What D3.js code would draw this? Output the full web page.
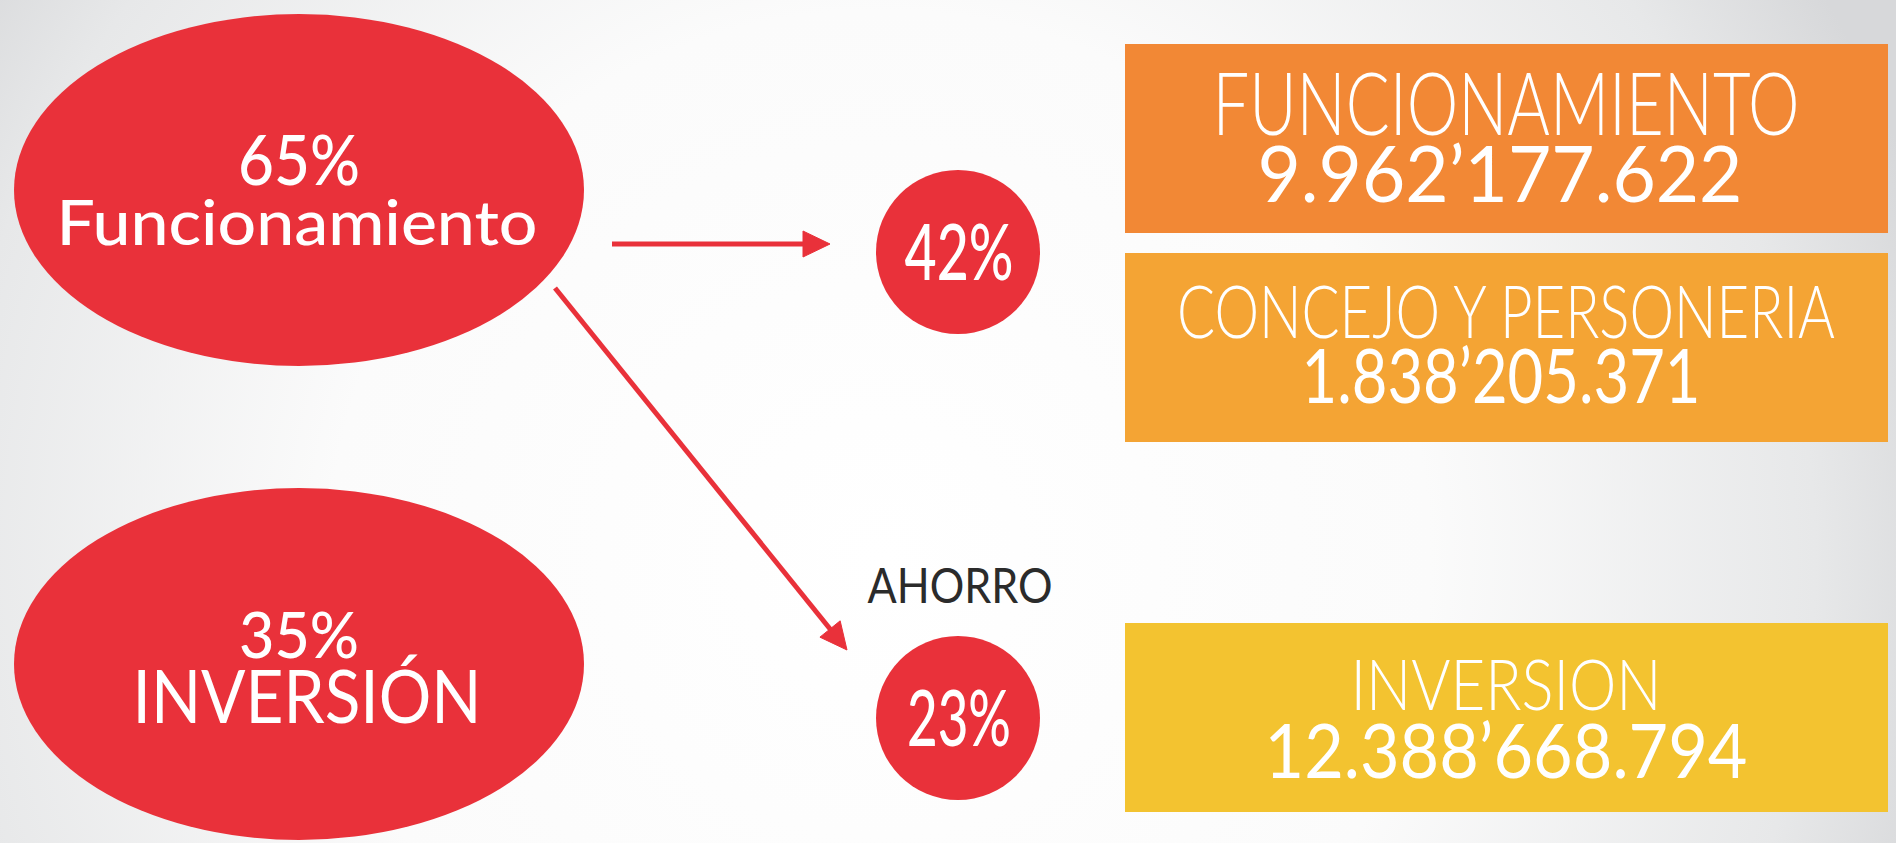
<!DOCTYPE html>
<html lang="es">
<head>
    <meta charset="UTF-8">
    <title>Presupuesto</title>
    <script src="https://cdn.jsdelivr.net/npm/d3@7"></script>
    <style>
        body {
            margin: 0;
            padding: 0;
            overflow: hidden;
            background: #ffffff;
        }
        svg text {
            font-family: 'Lato', 'Open Sans', sans-serif;
        }
    </style>
</head>
<body>
    <svg id="chart"></svg>

    <script>
        // data
        const groupShares = [65, 35];
        const groupLabels = ['Funcionamiento', 'INVERSIÓN'];
        const splitShares = [42, 23];
        const splitCaptions = ['', 'AHORRO'];
        const itemLabels = ['FUNCIONAMIENTO', 'CONCEJO Y PERSONERIA', 'INVERSION'];
        const itemValues = [9962177622, 1838205371, 12388668794];
        const itemColors = ['#f28835', '#f4a434', '#f3c330'];

        const width = 1896;
        const height = 843;
        const red = '#e9313a';

        const svg = d3.select('#chart')
            .attr('width', width)
            .attr('height', height);

        // background: light radial gradient, grey at the sides
        const defs = svg.append('defs');
        const grad = defs.append('radialGradient')
            .attr('id', 'bg')
            .attr('gradientUnits', 'userSpaceOnUse')
            .attr('cx', 880).attr('cy', 560).attr('r', 1100);
        grad.append('stop').attr('offset', 0).attr('stop-color', '#ffffff');
        grad.append('stop').attr('offset', 0.5).attr('stop-color', '#fbfbfb');
        grad.append('stop').attr('offset', 0.85).attr('stop-color', '#e7e8e9');
        grad.append('stop').attr('offset', 1).attr('stop-color', '#d7d8da');
        svg.append('rect')
            .attr('width', width).attr('height', height)
            .attr('fill', 'url(#bg)');

        // number formatting like 9.962’177.622
        const money = v => {
            const g = d3.format(',')(v).split(',');
            return g.map((s, i) => i === 0 ? s : (i === g.length - 2 ? '’' : '.') + s).join('');
        };

        // squeeze/stretch text to a measured width
        function fit(sel, w) {
            sel.attr('textLength', w).attr('lengthAdjust', 'spacingAndGlyphs');
        }

        // left ellipses
        const yGroup = d3.scalePoint().domain(d3.range(groupShares.length)).range([190, 664]);
        const groups = svg.selectAll('.group')
            .data(groupShares)
            .join('g')
            .attr('class', 'group')
            .attr('transform', (d, i) => `translate(299,${yGroup(i)})`);

        groups.append('ellipse')
            .attr('rx', 285)
            .attr('ry', 176)
            .attr('fill', red);

        const pctSpec = [{ y: -5, fs: 70, w: 122 }, { y: -6, fs: 63, w: 120 }];
        const lblSpec = [{ y: 55, fs: 61, w: 481, dx: -2 }, { y: 59, fs: 73, w: 349, dx: 8 }];

        groups.append('text')
            .attr('text-anchor', 'middle')
            .attr('y', (d, i) => pctSpec[i].y)
            .attr('font-size', (d, i) => pctSpec[i].fs)
            .attr('font-weight', 500)
            .attr('fill', '#ffffff')
            .text(d => d + '%')
            .each(function (d, i) { fit(d3.select(this), pctSpec[i].w); });

        groups.append('text')
            .attr('text-anchor', 'middle')
            .attr('x', (d, i) => lblSpec[i].dx)
            .attr('y', (d, i) => lblSpec[i].y)
            .attr('font-size', (d, i) => lblSpec[i].fs)
            .attr('font-weight', (d, i) => i === 0 ? 500 : 400)
            .attr('fill', '#ffffff')
            .text((d, i) => groupLabels[i])
            .each(function (d, i) { fit(d3.select(this), lblSpec[i].w); });

        // arrows: shaft plus a filled head
        const arrows = [
            { x1: 612, y1: 244, x2: 830, y2: 244 },
            { x1: 555, y1: 288, x2: 847, y2: 650 }
        ];
        const headLen = 27, headHalf = 13;
        arrows.forEach(a => {
            const ang = Math.atan2(a.y2 - a.y1, a.x2 - a.x1);
            const bx = a.x2 - headLen * Math.cos(ang);
            const by = a.y2 - headLen * Math.sin(ang);
            a.bx = bx + 2 * Math.cos(ang);
            a.by = by + 2 * Math.sin(ang);
            a.head = [
                [a.x2, a.y2],
                [bx + headHalf * Math.sin(ang), by - headHalf * Math.cos(ang)],
                [bx - headHalf * Math.sin(ang), by + headHalf * Math.cos(ang)]
            ];
        });

        svg.selectAll('.shaft')
            .data(arrows)
            .join('line')
            .attr('class', 'shaft')
            .attr('x1', d => d.x1).attr('y1', d => d.y1)
            .attr('x2', d => d.bx).attr('y2', d => d.by)
            .attr('stroke', red)
            .attr('stroke-width', 5);

        svg.selectAll('.head')
            .data(arrows)
            .join('path')
            .attr('class', 'head')
            .attr('d', d => d3.line()(d.head) + 'Z')
            .attr('fill', red)
            .attr('stroke', red)
            .attr('stroke-width', 1);

        // middle circles
        const yMid = d3.scalePoint().domain(d3.range(splitShares.length)).range([252, 718]);
        const mids = svg.selectAll('.mid')
            .data(splitShares)
            .join('g')
            .attr('class', 'mid')
            .attr('transform', (d, i) => `translate(958,${yMid(i)})`);

        mids.append('circle')
            .attr('r', 82)
            .attr('fill', red);

        mids.append('text')
            .attr('text-anchor', 'middle')
            .attr('x', 1)
            .attr('y', 28)
            .attr('font-size', 77)
            .attr('font-weight', 500)
            .attr('fill', '#ffffff')
            .text(d => d + '%')
            .each(function (d, i) { fit(d3.select(this), i === 0 ? 109 : 104); });

        mids.filter((d, i) => splitCaptions[i] !== '')
            .append('text')
            .attr('text-anchor', 'middle')
            .attr('x', 2)
            .attr('y', -115)
            .attr('font-size', 49)
            .attr('font-weight', 400)
            .attr('fill', '#2b2b2b')
            .text(splitCaptions[1])
            .each(function () { fit(d3.select(this), 185); });

        // right boxes
        const boxTop = [44, 253, 623];
        const boxH = 189;
        const labelSpec = [{ fs: 86, w: 587 }, { fs: 73, w: 658 }, { fs: 71, w: 311 }];
        const valueSpec = [{ fs: 78, w: 485, dx: -6 }, { fs: 75, w: 399, dx: -5 }, { fs: 75, w: 483, dx: 0 }];
        const labelBase = [91, 85, 87];
        const valueBase = [158, 150, 155];

        const boxes = svg.selectAll('.box')
            .data(itemValues)
            .join('g')
            .attr('class', 'box')
            .attr('transform', (d, i) => `translate(1125,${boxTop[i]})`);

        boxes.append('rect')
            .attr('width', 763)
            .attr('height', boxH)
            .attr('fill', (d, i) => itemColors[i]);

        boxes.append('text')
            .attr('text-anchor', 'middle')
            .attr('x', 381)
            .attr('y', (d, i) => labelBase[i])
            .attr('font-size', (d, i) => labelSpec[i].fs)
            .attr('font-weight', 300)
            .attr('fill', '#ffffff')
            .text((d, i) => itemLabels[i])
            .each(function (d, i) { fit(d3.select(this), labelSpec[i].w); });

        boxes.append('text')
            .attr('text-anchor', 'middle')
            .attr('x', (d, i) => 381 + valueSpec[i].dx)
            .attr('y', (d, i) => valueBase[i])
            .attr('font-size', (d, i) => valueSpec[i].fs)
            .attr('font-weight', 400)
            .attr('fill', '#ffffff')
            .text(d => money(d))
            .each(function (d, i) { fit(d3.select(this), valueSpec[i].w); });
    </script>
</body>
</html>
